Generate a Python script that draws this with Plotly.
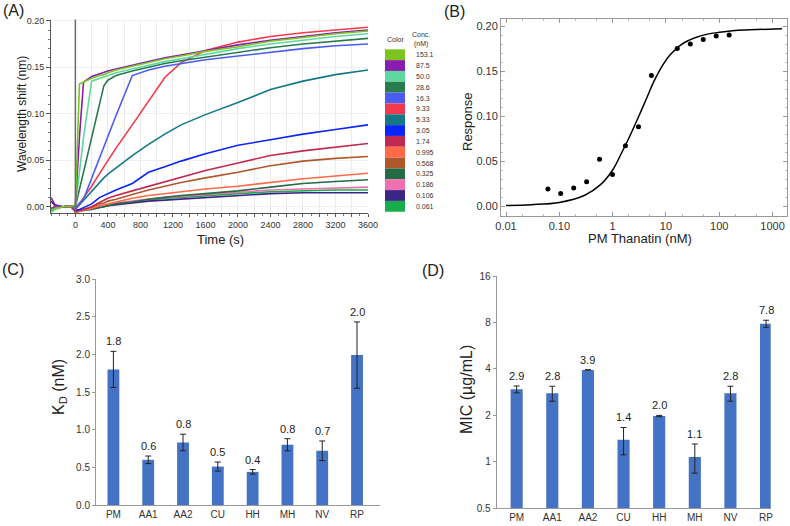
import math
import plotly.graph_objects as go

# ---------------- Panel A data (sensorgrams) ----------------
conc_labels = ["153.1", "87.5", "50.0", "28.6", "16.3", "9.33", "5.33", "3.05",
               "1.74", "0.995", "0.568", "0.325", "0.186", "0.106", "0.061"]
conc_colors = ["#7CC520", "#8A1CB0", "#5ED8A0", "#2A7A50", "#4A5CF2", "#F23A4E",
               "#147886", "#0A25F5", "#C02A50", "#FF6A48", "#B0582C", "#236A45",
               "#EE70AE", "#3C2585", "#16AE4C"]
time_s = [-300, -250, -150, -50, 0, 50, 100, 200, 300, 350, 400, 500, 700, 900,
          1100, 1300, 1600, 2000, 2400, 2800, 3200, 3600]
shift_153_1 = [-0.004, -0.002, 0.000, 0.001, 0.001, 0.132, 0.134, 0.138, 0.141, 0.142, 0.144, 0.147, 0.151, 0.155, 0.159, 0.162, 0.167, 0.172, 0.178, 0.182, 0.186, 0.189]
shift_87_5 = [0.010, 0.002, 0.000, 0.001, 0.001, 0.075, 0.134, 0.140, 0.143, 0.144, 0.146, 0.148, 0.152, 0.156, 0.160, 0.163, 0.168, 0.174, 0.179, 0.183, 0.187, 0.190]
shift_50_0 = [-0.006, -0.003, 0.000, 0.001, 0.000, 0.037, 0.074, 0.135, 0.138, 0.139, 0.141, 0.144, 0.148, 0.152, 0.156, 0.159, 0.164, 0.170, 0.175, 0.179, 0.183, 0.186]
shift_28_6 = [-0.005, -0.002, 0.000, 0.001, 0.000, 0.019, 0.038, 0.076, 0.114, 0.130, 0.136, 0.141, 0.146, 0.150, 0.154, 0.157, 0.161, 0.166, 0.171, 0.175, 0.178, 0.181]
shift_16_3 = [-0.003, -0.001, 0.000, 0.001, -0.002, 0.004, 0.008, 0.031, 0.053, 0.065, 0.076, 0.098, 0.141, 0.147, 0.151, 0.154, 0.158, 0.162, 0.166, 0.170, 0.173, 0.175]
shift_9_33 = [-0.002, 0.000, 0.000, 0.001, -0.003, 0.003, 0.009, 0.022, 0.036, 0.043, 0.050, 0.063, 0.088, 0.113, 0.139, 0.155, 0.168, 0.177, 0.183, 0.187, 0.190, 0.193]
shift_5_33 = [-0.003, 0.000, 0.000, 0.001, -0.003, 0.002, 0.007, 0.016, 0.027, 0.031, 0.035, 0.042, 0.055, 0.067, 0.078, 0.088, 0.099, 0.112, 0.126, 0.135, 0.142, 0.147]
shift_3_05 = [-0.002, 0.000, 0.000, 0.001, -0.004, -0.003, -0.001, 0.003, 0.010, 0.012, 0.014, 0.018, 0.025, 0.037, 0.043, 0.049, 0.057, 0.066, 0.072, 0.078, 0.083, 0.088]
shift_1_74 = [-0.002, 0.000, 0.000, 0.001, -0.005, -0.004, -0.003, 0.000, 0.005, 0.007, 0.009, 0.012, 0.017, 0.022, 0.027, 0.032, 0.039, 0.047, 0.055, 0.060, 0.064, 0.068]
shift_0_995 = [-0.002, 0.000, 0.000, 0.000, -0.006, -0.005, -0.004, -0.002, 0.001, 0.002, 0.003, 0.005, 0.009, 0.012, 0.014, 0.016, 0.019, 0.022, 0.026, 0.030, 0.033, 0.036]
shift_0_568 = [-0.002, 0.000, 0.000, 0.000, -0.005, -0.004, -0.003, -0.001, 0.003, 0.004, 0.006, 0.008, 0.013, 0.018, 0.022, 0.026, 0.031, 0.037, 0.044, 0.049, 0.052, 0.054]
shift_0_325 = [-0.003, -0.001, 0.000, 0.000, -0.006, -0.005, -0.004, -0.003, -0.001, 0.000, 0.001, 0.003, 0.005, 0.008, 0.010, 0.012, 0.014, 0.017, 0.021, 0.025, 0.027, 0.029]
shift_0_186 = [-0.003, -0.001, 0.000, 0.000, -0.005, -0.004, -0.003, -0.002, 0.000, 0.001, 0.002, 0.004, 0.006, 0.008, 0.010, 0.011, 0.013, 0.015, 0.018, 0.019, 0.020, 0.021]
shift_0_106 = [0.006, 0.001, 0.000, 0.000, -0.004, -0.004, -0.003, -0.002, -0.001, 0.000, 0.001, 0.002, 0.004, 0.006, 0.007, 0.008, 0.010, 0.012, 0.014, 0.015, 0.015, 0.015]
shift_0_061 = [-0.004, -0.001, 0.000, 0.000, -0.005, -0.004, -0.003, -0.002, 0.000, 0.001, 0.002, 0.003, 0.005, 0.007, 0.009, 0.010, 0.012, 0.014, 0.016, 0.017, 0.018, 0.018]
shift_series = [shift_153_1, shift_87_5, shift_50_0, shift_28_6, shift_16_3, shift_9_33,
                shift_5_33, shift_3_05, shift_1_74, shift_0_995, shift_0_568, shift_0_325,
                shift_0_186, shift_0_106, shift_0_061]
a_tick_times = list(range(0, 3601, 200))

# ---------------- Panel B data (steady-state fit) ----------------
b_conc = [0.061, 0.106, 0.186, 0.325, 0.568, 0.995, 1.74, 3.05, 5.33, 16.3, 28.6, 50.0, 87.5, 153.1]
b_resp = [0.019, 0.014, 0.020, 0.027, 0.052, 0.035, 0.067, 0.088, 0.145, 0.175, 0.180, 0.185, 0.189, 0.190]
fit_conc = [0.01, 0.03, 0.1, 0.3, 0.6, 1.0, 1.5, 2.0, 3.0, 4.5, 6.0, 9.0, 12, 20, 35, 60, 100, 200, 500, 1500]
fit_resp = [0.0006, 0.0015, 0.004, 0.012, 0.024, 0.040, 0.060, 0.075, 0.098, 0.122, 0.139, 0.158,
            0.168, 0.180, 0.187, 0.191, 0.193, 0.195, 0.196, 0.197]
b_tickvals = [0.01, 0.1, 1, 10, 100, 1000]
b_ticktext = ["0.01", "0.10", "1", "10", "100", "1000"]
resp_ticks = [0, 0.05, 0.10, 0.15, 0.20]
resp_ticktext = ["0.00", "0.05", "0.10", "0.15", "0.20"]

# ---------------- Panel C / D data ----------------
species = ["PM", "AA1", "AA2", "CU", "HH", "MH", "NV", "RP"]
kd_values = [1.80, 0.60, 0.83, 0.51, 0.44, 0.80, 0.72, 1.99]
kd_errors = [0.24, 0.05, 0.11, 0.06, 0.03, 0.08, 0.13, 0.44]
kd_labels = ["1.8", "0.6", "0.8", "0.5", "0.4", "0.8", "0.7", "2.0"]
mic_values = [2.95, 2.78, 3.94, 1.39, 1.98, 1.075, 2.78, 7.86]
mic_errors = [0.15, 0.31, 0.0, 0.28, 0.02, 0.23, 0.31, 0.41]
mic_labels = ["2.9", "2.8", "3.9", "1.4", "2.0", "1.1", "2.8", "7.8"]
mic_tickvals = [0.5, 1, 2, 4, 8, 16]
mic_ticktext = ["0.5", "1", "2", "4", "8", "16"]

FONT = "Arial, Liberation Sans, sans-serif"
W, H = 790, 526
BAR_COLOR = "#4472C4"


def px(x):
    return x / W


def py(y):
    return 1 - y / H


def label(text, x, y, size, angle=0, xanchor="center", color="#222"):
    return dict(x=px(x), y=py(y), xref="paper", yref="paper", text=text, showarrow=False,
                xanchor=xanchor, yanchor="middle", textangle=angle,
                font=dict(size=size, color=color, family=FONT))


fig = go.Figure()

# Panel A traces (draw low concentration first)
for lab, col, ys in reversed(list(zip(conc_labels, conc_colors, shift_series))):
    fig.add_trace(go.Scatter(x=time_s, y=ys, mode="lines", line=dict(color=col, width=1.6),
                             xaxis="x", yaxis="y", showlegend=False, name=lab))

# Panel B
fig.add_trace(go.Scatter(x=fit_conc, y=fit_resp, mode="lines", line=dict(color="black", width=1.5, shape="spline"),
                         xaxis="x2", yaxis="y2", showlegend=False))
fig.add_trace(go.Scatter(x=b_conc, y=b_resp, mode="markers", marker=dict(color="black", size=5),
                         xaxis="x2", yaxis="y2", showlegend=False))

# Panel C
fig.add_trace(go.Bar(x=species, y=kd_values, width=0.34, marker=dict(color=BAR_COLOR, line=dict(width=0)),
                     error_y=dict(type="data", array=kd_errors, color="#222", thickness=1, width=3),
                     xaxis="x3", yaxis="y3", showlegend=False))
# Panel D
fig.add_trace(go.Bar(x=species, y=mic_values, width=0.34, marker=dict(color=BAR_COLOR, line=dict(width=0)),
                     error_y=dict(type="data", array=mic_errors, color="#222", thickness=1, width=3),
                     xaxis="x4", yaxis="y4", showlegend=False))

annotations = []
shapes = []

# value labels
for s, v, e, t in zip(species, kd_values, kd_errors, kd_labels):
    annotations.append(dict(x=s, y=v + e, xref="x3", yref="y3", text=t, showarrow=False,
                            xanchor="center", yanchor="bottom", yshift=2,
                            font=dict(size=11, color="#222", family=FONT)))
for s, v, e, t in zip(species, mic_values, mic_errors, mic_labels):
    annotations.append(dict(x=s, y=math.log10(v + e), xref="x4", yref="y4", text=t, showarrow=False,
                            xanchor="center", yanchor="bottom", yshift=2,
                            font=dict(size=11, color="#222", family=FONT)))

# Panel A color legend
top0, step = 49.3, 10.83
for i, (lab, col) in enumerate(zip(conc_labels, conc_colors)):
    y0 = top0 + i * step
    shapes.append(dict(type="rect", xref="paper", yref="paper", x0=px(385), x1=px(405),
                       y0=py(y0 + step), y1=py(y0), fillcolor=col, line=dict(width=0)))
    annotations.append(label(lab, 414, y0 + step / 2, 7, xanchor="left", color="#333"))
for txt, x, y in [("Color", 395, 39), ("Conc.", 421, 35), ("(nM)", 421, 44)]:
    annotations.append(label(txt, x, y, 7, color="#333"))

# t = 0 injection marker line
shapes.append(dict(type="line", xref="x", yref="y domain", x0=0, x1=0, y0=0, y1=1,
                   line=dict(color="#6b6b6b", width=1.5)))

# panel letters
for txt, x, y in [("(A)", 13, 10), ("(B)", 455, 12), ("(C)", 13, 269), ("(D)", 433, 270)]:
    annotations.append(label(txt, x, y, 16))

# axis titles
annotations += [
    label("Wavelength shift (nm)", 22, 114, 12, angle=-90),
    label("Time (s)", 220, 239, 13),
    label("Response", 468, 122, 13, angle=-90),
    label("PM Thanatin (nM)", 640, 238, 13),
    label("K<sub>D</sub> (nM)", 59, 387, 16, angle=-90),
    label("MIC (µg/mL)", 466, 390, 16, angle=-90),
]

tickfont_a = dict(size=9, color="#333", family=FONT)
tickfont_b = dict(size=11, color="#333", family=FONT)
tickfont_c = dict(size=10, color="#333", family=FONT)

fig.update_layout(
    width=W, height=H, autosize=False,
    margin=dict(l=0, r=0, t=0, b=0, autoexpand=False),
    paper_bgcolor="white", plot_bgcolor="white",
    font=dict(family=FONT),
    annotations=annotations, shapes=shapes,
    xaxis=dict(domain=[px(51), px(368)], range=[-300, 3600], tickvals=a_tick_times,
               ticktext=[str(v) if v % 400 == 0 else " " for v in a_tick_times],
               showgrid=True, gridcolor="#ebebeb", gridwidth=1, zeroline=False, automargin=False,
               showline=True, linecolor="#555", linewidth=1, ticks="outside", ticklen=3, tickcolor="#555",
               minor=dict(dtick=100, ticks="outside", ticklen=2, tickcolor="#777", showgrid=False),
               tickfont=tickfont_a, anchor="y"),
    yaxis=dict(domain=[py(213), py(19.5)], range=[-0.0068, 0.2013], tickvals=resp_ticks,
               ticktext=resp_ticktext, automargin=False,
               showgrid=True, gridcolor="#f0f0f0", zeroline=False,
               showline=True, linecolor="#555", linewidth=1, ticks="outside", ticklen=4, tickcolor="#555",
               minor=dict(dtick=0.01, ticks="outside", ticklen=2, tickcolor="#777", showgrid=False),
               tickfont=tickfont_a, anchor="x"),
    xaxis2=dict(domain=[px(501), px(787)], type="log", range=[-2.094, 3.27], tickvals=b_tickvals,
                ticktext=b_ticktext, showgrid=False, zeroline=False, showline=True, linecolor="#999",
                linewidth=1, mirror="ticks", ticks="inside", ticklen=4, tickcolor="#999", automargin=False,
                minor=dict(ticks="inside", ticklen=2, tickcolor="#bbb"),
                tickfont=tickfont_b, anchor="y2"),
    yaxis2=dict(domain=[py(216), py(19)], range=[-0.0111, 0.2078], tickvals=resp_ticks,
                ticktext=resp_ticktext, showgrid=False, zeroline=False, automargin=False,
                showline=True, linecolor="#999", linewidth=1, mirror="ticks", ticks="inside", ticklen=4,
                tickcolor="#999", minor=dict(dtick=0.01, ticks="inside", ticklen=2, tickcolor="#bbb"),
                tickfont=tickfont_b, anchor="x2"),
    xaxis3=dict(domain=[px(96), px(380)], range=[-0.5, 7.66], showgrid=False, zeroline=False,
                showline=True, linecolor="#999", linewidth=1, ticks="", tickfont=tickfont_c,
                automargin=False, anchor="y3"),
    yaxis3=dict(domain=[py(505), py(279)], range=[0, 3.0], dtick=0.5, tickformat=".1f", showgrid=False,
                zeroline=False, showline=True, linecolor="#999", linewidth=1, ticks="outside", ticklen=3,
                tickcolor="#999", tickfont=tickfont_c, automargin=False, anchor="x3"),
    xaxis4=dict(domain=[px(496.7), px(770.7)], range=[-0.56, 7.13], showgrid=False, zeroline=False,
                showline=True, linecolor="#999", linewidth=1, ticks="", tickfont=tickfont_c,
                automargin=False, anchor="y4"),
    yaxis4=dict(domain=[py(508.3), py(276)], type="log", range=[math.log10(0.5), math.log10(16)],
                tickvals=mic_tickvals, ticktext=mic_ticktext, showgrid=False, zeroline=False,
                showline=True, linecolor="#999", linewidth=1, ticks="outside", ticklen=3, tickcolor="#999",
                tickfont=tickfont_c, automargin=False, anchor="x4"),
)

fig.write_html("out.html", config={"displayModeBar": False},
               post_script="document.body.style.margin='0';document.body.style.overflow='hidden';")
